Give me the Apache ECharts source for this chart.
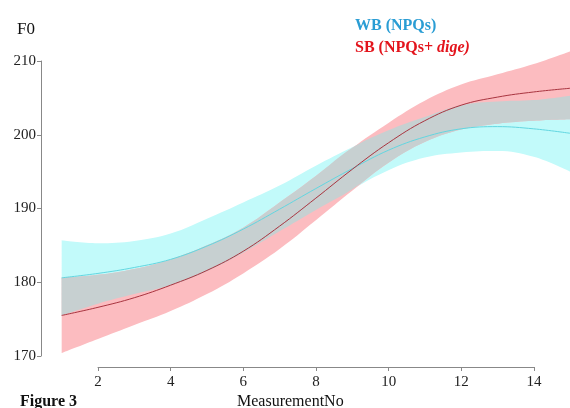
<!DOCTYPE html>
<html>
<head>
<meta charset="utf-8">
<script src="https://cdn.jsdelivr.net/npm/echarts@6/dist/echarts.min.js"></script>
<style>
  html, body { margin: 0; padding: 0; background: #fff; }
  #f0chart { width: 570px; height: 408px; }
</style>
</head>
<body>
<div id="f0chart"></div>
<script>
// measurement numbers
var measNo = [1, 2, 3, 4, 5, 6, 7, 8, 9, 10, 11, 12, 13, 14, 15];

// WB (NPQs): fitted line and band
var wbMid = [180.6, 181.2, 182.0, 183.1, 184.9, 187.2, 189.9, 192.7, 195.4, 197.9, 199.7, 200.8, 201.1, 200.8, 200.2];
var wbLo  = [175.5, 177.1, 178.4, 179.6, 181.5, 184.0, 186.9, 189.8, 192.6, 195.2, 196.9, 197.6, 197.8, 197.0, 195.0];
var wbHi  = [185.7, 185.3, 185.6, 186.6, 188.6, 190.8, 193.1, 195.8, 198.3, 200.6, 202.4, 204.0, 204.5, 204.7, 205.3];

// SB (NPQs+dige): fitted line and band
var sbMid = [175.5, 176.6, 177.9, 179.6, 181.6, 184.2, 187.6, 191.4, 195.3, 198.9, 201.9, 204.0, 205.1, 205.8, 206.3];
var sbLo  = [170.4, 172.3, 174.2, 176.1, 178.4, 181.2, 184.5, 188.4, 192.4, 196.2, 199.0, 200.7, 201.5, 201.9, 202.1];
var sbHi  = [180.6, 181.0, 181.8, 183.1, 185.0, 187.4, 190.8, 194.4, 198.2, 201.6, 204.6, 206.8, 208.2, 209.6, 211.3];

var serif = 'Liberation Serif';

function diff(hi, lo) {
    return hi.map(function (v, i) { return Math.max(0, v - lo[i]); });
}

// overlap of the two bands (drawn grey)
var ovLo = wbLo.map(function (v, i) { return Math.max(v, sbLo[i]); });
var ovHi = wbHi.map(function (v, i) { return Math.min(v, sbHi[i]); });

function bandBase(name, lo) {
    return {
        name: name + '_lo', type: 'line', stack: name, data: lo,
        xAxisIndex: 1, yAxisIndex: 1,
        smooth: 0.4, symbol: 'none', silent: true,
        lineStyle: { opacity: 0 }
    };
}
function bandFill(name, hi, lo, color) {
    return {
        name: name + '_band', type: 'line', stack: name, data: diff(hi, lo),
        xAxisIndex: 1, yAxisIndex: 1,
        smooth: 0.4, symbol: 'none', silent: true,
        lineStyle: { opacity: 0 },
        areaStyle: { color: color, opacity: 1 }
    };
}
function midLine(name, arr, color) {
    return {
        name: name, type: 'line', data: arr,
        xAxisIndex: 1, yAxisIndex: 1,
        smooth: 0.4, symbol: 'none',
        lineStyle: { width: 1, color: color }
    };
}

var f0opt = {
    animation: false,
    backgroundColor: '#fff',
    title: [
        { text: 'F0', left: 12, top: 16, textStyle: { fontFamily: serif, fontSize: 17, fontWeight: 'normal', color: '#111' } },
        { text: 'MeasurementNo', left: 232, top: 389, textStyle: { fontFamily: serif, fontSize: 16, fontWeight: 'normal', color: '#111' } },
        { text: 'Figure 3', left: 15, top: 389, textStyle: { fontFamily: serif, fontSize: 16, fontWeight: 'bold', color: '#111' } },
        {
            text: '{a|WB (NPQs)}\n{b|SB (NPQs+ }{c|dige)}', left: 350, top: 10,
            textStyle: {
                rich: {
                    a: { fontFamily: serif, fontSize: 16, fontWeight: 'bold', color: '#2a9dd4', lineHeight: 22 },
                    b: { fontFamily: serif, fontSize: 16, fontWeight: 'bold', color: '#e3141c', lineHeight: 22 },
                    c: { fontFamily: serif, fontSize: 16, fontWeight: 'bold', fontStyle: 'italic', color: '#e3141c', lineHeight: 22 }
                }
            }
        }
    ],
    // grid 0: the visible axes (2..14, 170..210); grid 1: the data (1..15, 170..215)
    grid: [
        { left: 98, right: 36, top: 61, bottom: 52 },
        { left: 61.67, right: -0.33, top: 24.1, bottom: 52 }
    ],
    xAxis: [
        {
            type: 'value', min: 2, max: 14, interval: 2, offset: 11, gridIndex: 0,
            axisLine: { lineStyle: { color: '#888', width: 1 } },
            axisTick: { length: 4, lineStyle: { color: '#888' } },
            axisLabel: { margin: 8, fontFamily: serif, fontSize: 15, color: '#222' },
            splitLine: { show: false }
        },
        {
            type: 'category', data: measNo, boundaryGap: false, gridIndex: 1, show: false
        }
    ],
    yAxis: [
        {
            type: 'value', min: 170, max: 210, interval: 10, offset: 57, gridIndex: 0,
            axisLine: { show: true, lineStyle: { color: '#888', width: 1 } },
            axisTick: { show: true, length: 4, lineStyle: { color: '#888' } },
            axisLabel: { margin: 5, fontFamily: serif, fontSize: 15, color: '#222' },
            splitLine: { show: false }
        },
        {
            type: 'value', min: 170, max: 215, gridIndex: 1, show: false, splitLine: { show: false }
        }
    ],
    series: [
        bandBase('wb', wbLo),
        bandFill('wb', wbHi, wbLo, '#c2fafa'),
        bandBase('sb', sbLo),
        bandFill('sb', sbHi, sbLo, '#fcbcc0'),
        bandBase('ov', ovLo),
        bandFill('ov', ovHi, ovLo, '#c7d0d1'),
        midLine('WB (NPQs)', wbMid, '#62d6e0'),
        midLine('SB (NPQs+dige)', sbMid, '#a8343f')
    ]
};

var chart_f0 = echarts.init(document.getElementById('f0chart'));
chart_f0.setOption(f0opt);
</script>
</body>
</html>
